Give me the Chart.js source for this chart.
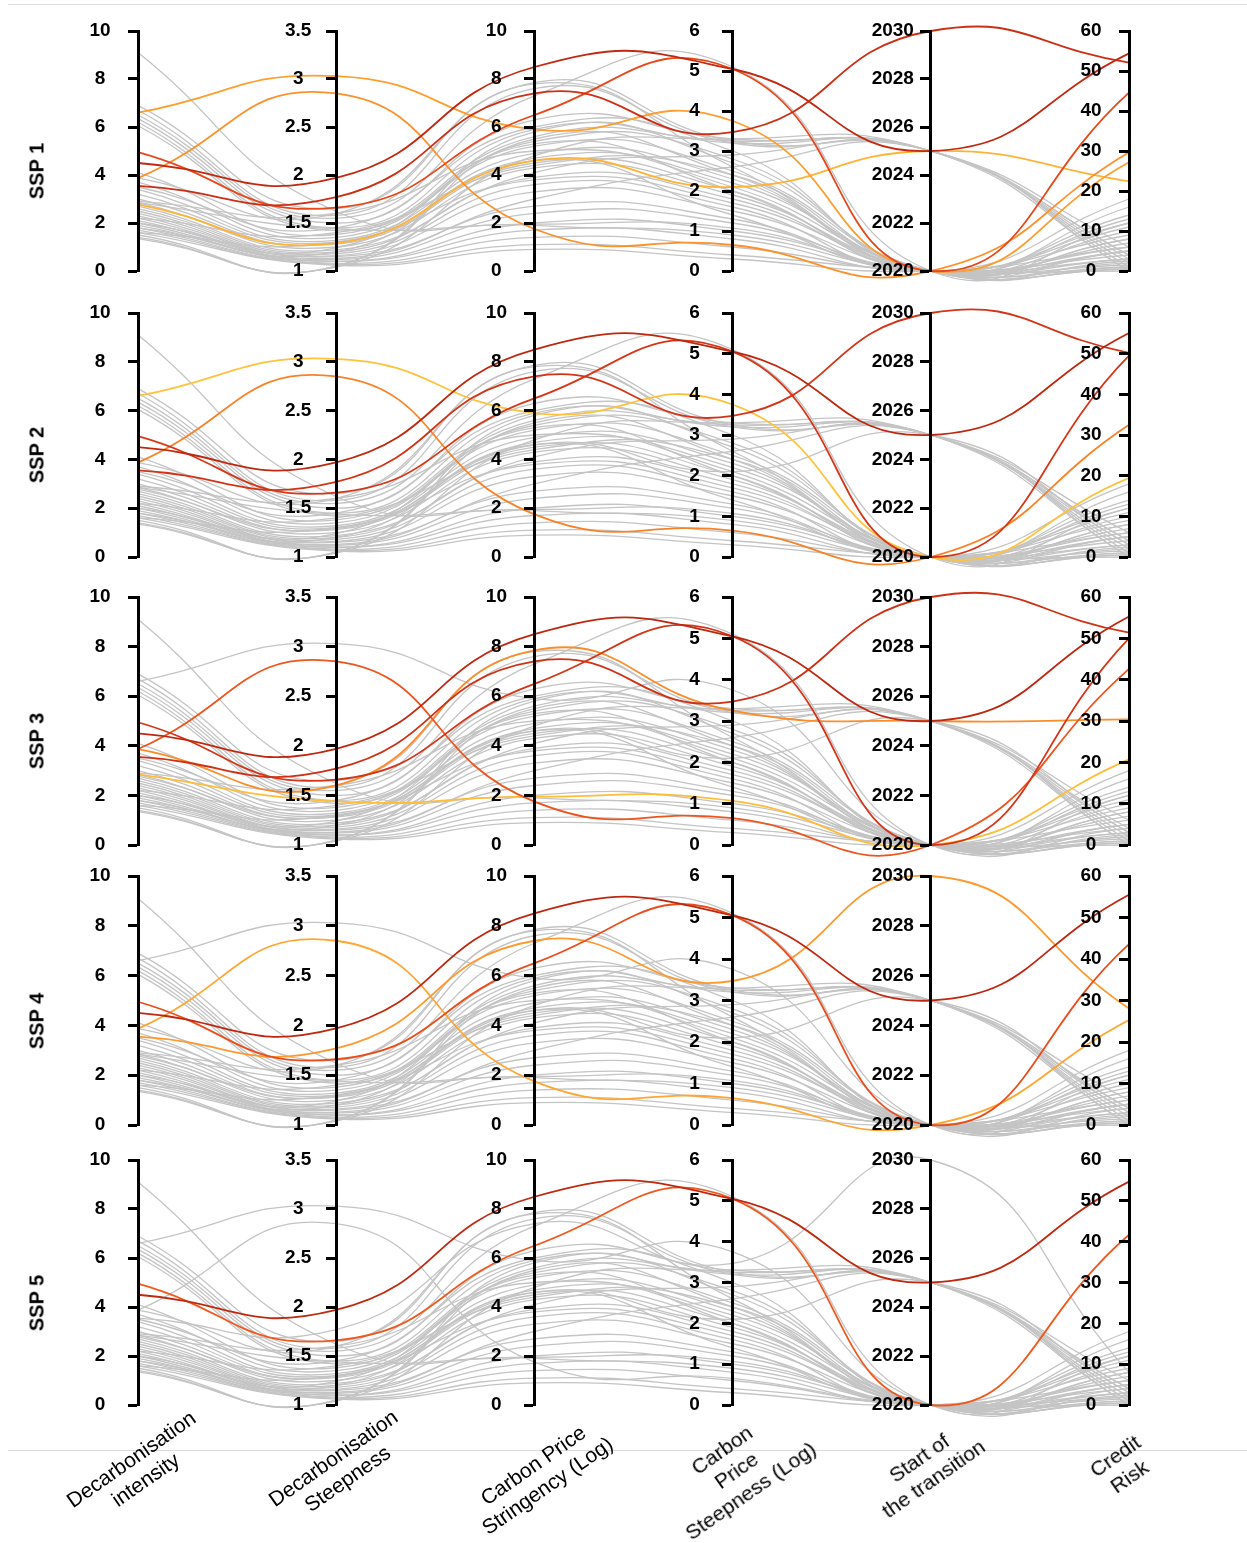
<!DOCTYPE html>
<html>
<head>
<meta charset="utf-8">
<script src="https://cdn.jsdelivr.net/npm/chart.js@4.4.1/dist/chart.umd.min.js"></script>
<style>
  body { margin: 0; background: #fff; }
  #wrap { position: relative; width: 1247px; height: 1543px; overflow: hidden; font-family: 'Liberation Sans', Arial, sans-serif; }
  canvas { position: absolute; left: 0; }
  .rule { position: absolute; left: 8px; right: 0; height: 1px; background: #dcdcdc; }
  .ssp { position: absolute; font-weight: bold; font-size: 20px; white-space: nowrap; transform: translate(-50%, -50%) rotate(-90deg); }
  .title { position: absolute; font-size: 21px; line-height: 25px; text-align: center; white-space: nowrap; transform: translate(-50%, -50%) rotate(-35deg); }
</style>
</head>
<body>
<div id="wrap">
  <div class="rule" style="top:4px"></div>
  <div class="rule" style="top:1450px"></div>
</div>
<script>
// axes of the parallel plot
const AXIS_TITLES = ['Decarbonisation\nintensity', 'Decarbonisation\nSteepness', 'Carbon Price\nStringency (Log)',
                     'Carbon\nPrice\nSteepness (Log)', 'Start of\nthe transition', 'Credit\nRisk'];
const AXIS_MIN = [0, 1, 0, 0, 2020, 0];
const AXIS_MAX = [10, 3.5, 10, 6, 2030, 60];
const AXIS_STEP = [2, 0.5, 2, 1, 2, 10];
const SSP_LABELS = ['SSP 1', 'SSP 2', 'SSP 3', 'SSP 4', 'SSP 5'];

// background scenarios (grey in every panel): [DI, DS, CPS, CPStp, start, credit]
const GREY_LINES = [
  [9.1, 1.62, 1.9, 0.9, 2020, 3],
  [6.9, 1.65, 7.8, 2.6, 2020, 5],
  [6.5, 1.55, 7.3, 5.1, 2020, 12],
  [6.35, 1.5, 6.3, 3.3, 2025, 4],
  [6.2, 1.45, 5.9, 3.2, 2025, 2],
  [6.05, 1.42, 5.4, 2.8, 2020, 8],
  [6.7, 1.58, 7.6, 3.2, 2025, 0],
  [4.1, 1.38, 5.6, 3.25, 2025, 6],
  [3.7, 1.35, 5.2, 2.5, 2020, 1],
  [3.5, 1.45, 6.0, 3.0, 2020, 16],
  [3.4, 1.32, 4.9, 2.3, 2020, 10],
  [3.2, 1.3, 4.7, 2.2, 2020, 0.5],
  [3.0, 1.28, 4.5, 2.0, 2020, 14],
  [2.9, 1.6, 5.0, 2.1, 2020, 0.5],
  [2.85, 1.25, 4.3, 1.9, 2020, 2],
  [2.7, 1.22, 4.1, 2.9, 2025, 1],
  [2.6, 1.2, 3.9, 1.8, 2020, 7],
  [2.5, 1.18, 3.6, 1.6, 2020, 18],
  [2.4, 1.16, 3.3, 1.5, 2020, 3],
  [2.3, 1.15, 3.0, 2.6, 2025, 0],
  [2.2, 1.4, 4.4, 2.4, 2020, 8],
  [2.2, 1.13, 2.7, 1.3, 2020, 11],
  [2.1, 1.12, 2.4, 1.2, 2020, 5],
  [2.0, 1.24, 5.3, 2.0, 2020, 5],
  [2.0, 1.1, 2.0, 1.0, 2020, 1.5],
  [1.9, 1.1, 1.7, 0.8, 2020, 9],
  [1.8, 1.2, 4.6, 1.4, 2020, 12],
  [1.8, 1.08, 1.4, 0.6, 2020, 4],
  [1.7, 1.07, 1.1, 0.4, 2020, 0],
  [1.6, 1.3, 3.8, 1.7, 2020, 1],
  [1.6, 1.06, 0.9, 0.3, 2020, 6],
  [1.5, 1.05, 5.8, 2.7, 2020, 2.5],
  [1.4, 1.05, 5.5, 2.4, 2020, 13],
  [1.35, 1.04, 4.8, 3.3, 2025, 3]
];

// scenarios that are highlighted in at least one SSP: [DI, DS, CPS, CPStp, start]
const KEY_LINES = [
  [4.5, 1.97, 8.5, 5.05, 2025],
  [4.95, 1.66, 6.5, 5.05, 2020],
  [3.55, 1.77, 7.4, 3.47, 2030],
  [6.6, 3.03, 5.9, 3.75, 2020],
  [3.87, 2.85, 1.75, 0.65, 2020],
  [2.78, 1.29, 4.6, 2.1, 2025],
  [3.87, 1.6, 7.85, 3.25, 2025],
  [2.85, 1.44, 1.95, 1.07, 2020]
];
// credit risk of those scenarios, one column per SSP 1..5
const KEY_CREDIT = [
  [54.4, 55.1, 55.3, 55.5, 54.7],
  [44.6, 49.5, 50.0, 43.6, 41.7],
  [52.1, 50.2, 51.4, 28.1, 8],
  [27.2, 19.4, 4, 4, 4],
  [29.7, 32.5, 42.6, 25.3, 2],
  [22.4, 3, 3, 3, 3],
  [4, 4, 30.4, 4, 4],
  [6, 6, 20.7, 6, 6]
];
// 1 = coloured in that SSP panel
const KEY_SHOWN = [
  [1, 1, 1, 1, 1],
  [1, 1, 1, 1, 1],
  [1, 1, 1, 1, 0],
  [1, 1, 0, 0, 0],
  [1, 1, 1, 1, 0],
  [1, 0, 0, 0, 0],
  [0, 0, 1, 0, 0],
  [0, 0, 1, 0, 0]
];

// layout
const FONT = "'Liberation Sans', Arial, sans-serif";
const PANEL_TOP = [31, 313, 597, 876, 1160];
const PANEL_BOTTOM = [271, 557, 845, 1125, 1405];
const AXIS_LEFT = 138, AXIS_RIGHT = 1129, PAD = 30, LABEL_GAP = 38;
const GREY = '#c4c4c4';
const TITLE_POS = [[138, 1469], [340, 1468], [540, 1475], [736, 1470], [926, 1468], [1122, 1466]];

const COLOR_STOPS = [[19, [255, 196, 61]], [23, [255, 176, 52]], [28, [253, 154, 46]], [32, [248, 132, 40]],
                     [42, [240, 88, 30]], [45, [228, 68, 26]], [50, [212, 52, 24]], [55, [190, 40, 16]]];
function creditColor(v) {
  if (v <= COLOR_STOPS[0][0]) return `rgb(${COLOR_STOPS[0][1].join(',')})`;
  for (let i = 1; i < COLOR_STOPS.length; i++) {
    const [v1, c1] = COLOR_STOPS[i];
    const [v0, c0] = COLOR_STOPS[i - 1];
    if (v <= v1) {
      const t = (v - v0) / (v1 - v0);
      return `rgb(${c0.map((c, k) => Math.round(c + (c1[k] - c) * t)).join(',')})`;
    }
  }
  return `rgb(${COLOR_STOPS[COLOR_STOPS.length - 1][1].join(',')})`;
}

// y axis placed inside the plot, tick labels centred left of it
class ParAxis extends Chart.LinearScale {
  _computeLabelItems(chartArea) {
    const items = super._computeLabelItems(chartArea);
    const ax = this.chart.scales.x.getPixelForValue(this.options.position.x);
    items.forEach(it => {
      it.options.translation[0] = ax - LABEL_GAP;
      it.options.textAlign = 'center';
    });
    return items;
  }
}
ParAxis.id = 'paraxis';
ParAxis.defaults = {};
Chart.register(ParAxis);

function lineDataset(vals, color, width) {
  return {
    data: vals.map((v, i) => ({ x: i, y: (v - AXIS_MIN[i]) / (AXIS_MAX[i] - AXIS_MIN[i]) })),
    borderColor: color,
    borderWidth: width,
    pointRadius: 0,
    tension: 0.5,
    fill: false,
    clip: false
  };
}

const wrap = document.getElementById('wrap');

SSP_LABELS.forEach((label, p) => {
  const canvas = document.createElement('canvas');
  const h = PANEL_BOTTOM[p] - PANEL_TOP[p] + 2 * PAD;
  canvas.width = 1247;
  canvas.height = h;
  canvas.style.top = (PANEL_TOP[p] - PAD) + 'px';
  canvas.style.width = '1247px';
  canvas.style.height = h + 'px';
  wrap.appendChild(canvas);

  const coloured = [];
  const grey = GREY_LINES.map(row => lineDataset(row, GREY, 1.3));
  KEY_LINES.forEach((row, k) => {
    const vals = row.concat([KEY_CREDIT[k][p]]);
    if (KEY_SHOWN[k][p]) coloured.push({ credit: vals[5], ds: lineDataset(vals, creditColor(vals[5]), 1.8) });
    else grey.push(lineDataset(vals, GREY, 1.3));
  });
  coloured.sort((a, b) => b.credit - a.credit);

  const scales = {
    x: { type: 'linear', min: 0, max: 5, display: false },
    y: { type: 'linear', min: 0, max: 1, display: false }
  };
  AXIS_MIN.forEach((mn, i) => {
    scales['y' + i] = {
      type: 'paraxis',
      axis: 'y',
      position: { x: i },
      min: mn,
      max: AXIS_MAX[i],
      border: { display: true, color: '#000', width: 3, z: 1 },
      grid: { drawOnChartArea: false, drawTicks: true, tickLength: 9, tickWidth: 3, tickColor: '#000', z: 1 },
      ticks: {
        stepSize: AXIS_STEP[i],
        color: '#000',
        padding: 4,
        z: 2,
        font: { family: FONT, size: 19, weight: 'bold' },
        callback: v => String(v)
      }
    };
  });

  new Chart(canvas.getContext('2d'), {
    type: 'line',
    data: { datasets: coloured.map(c => c.ds).concat(grey) },
    options: {
      responsive: false,
      animation: false,
      devicePixelRatio: 1,
      layout: { padding: { left: AXIS_LEFT, right: 1247 - AXIS_RIGHT, top: PAD, bottom: PAD } },
      elements: { line: { capBezierPoints: false } },
      plugins: { legend: { display: false }, tooltip: { enabled: false } },
      scales: scales
    }
  });

  const lab = document.createElement('div');
  lab.className = 'ssp';
  lab.textContent = label;
  lab.style.left = '37px';
  lab.style.top = ((PANEL_TOP[p] + PANEL_BOTTOM[p]) / 2 + 20) + 'px';
  wrap.appendChild(lab);
});

AXIS_TITLES.forEach((t, i) => {
  const d = document.createElement('div');
  d.className = 'title';
  d.innerHTML = t.split('\n').join('<br>');
  d.style.left = TITLE_POS[i][0] + 'px';
  d.style.top = TITLE_POS[i][1] + 'px';
  wrap.appendChild(d);
});
</script>
</body>
</html>
